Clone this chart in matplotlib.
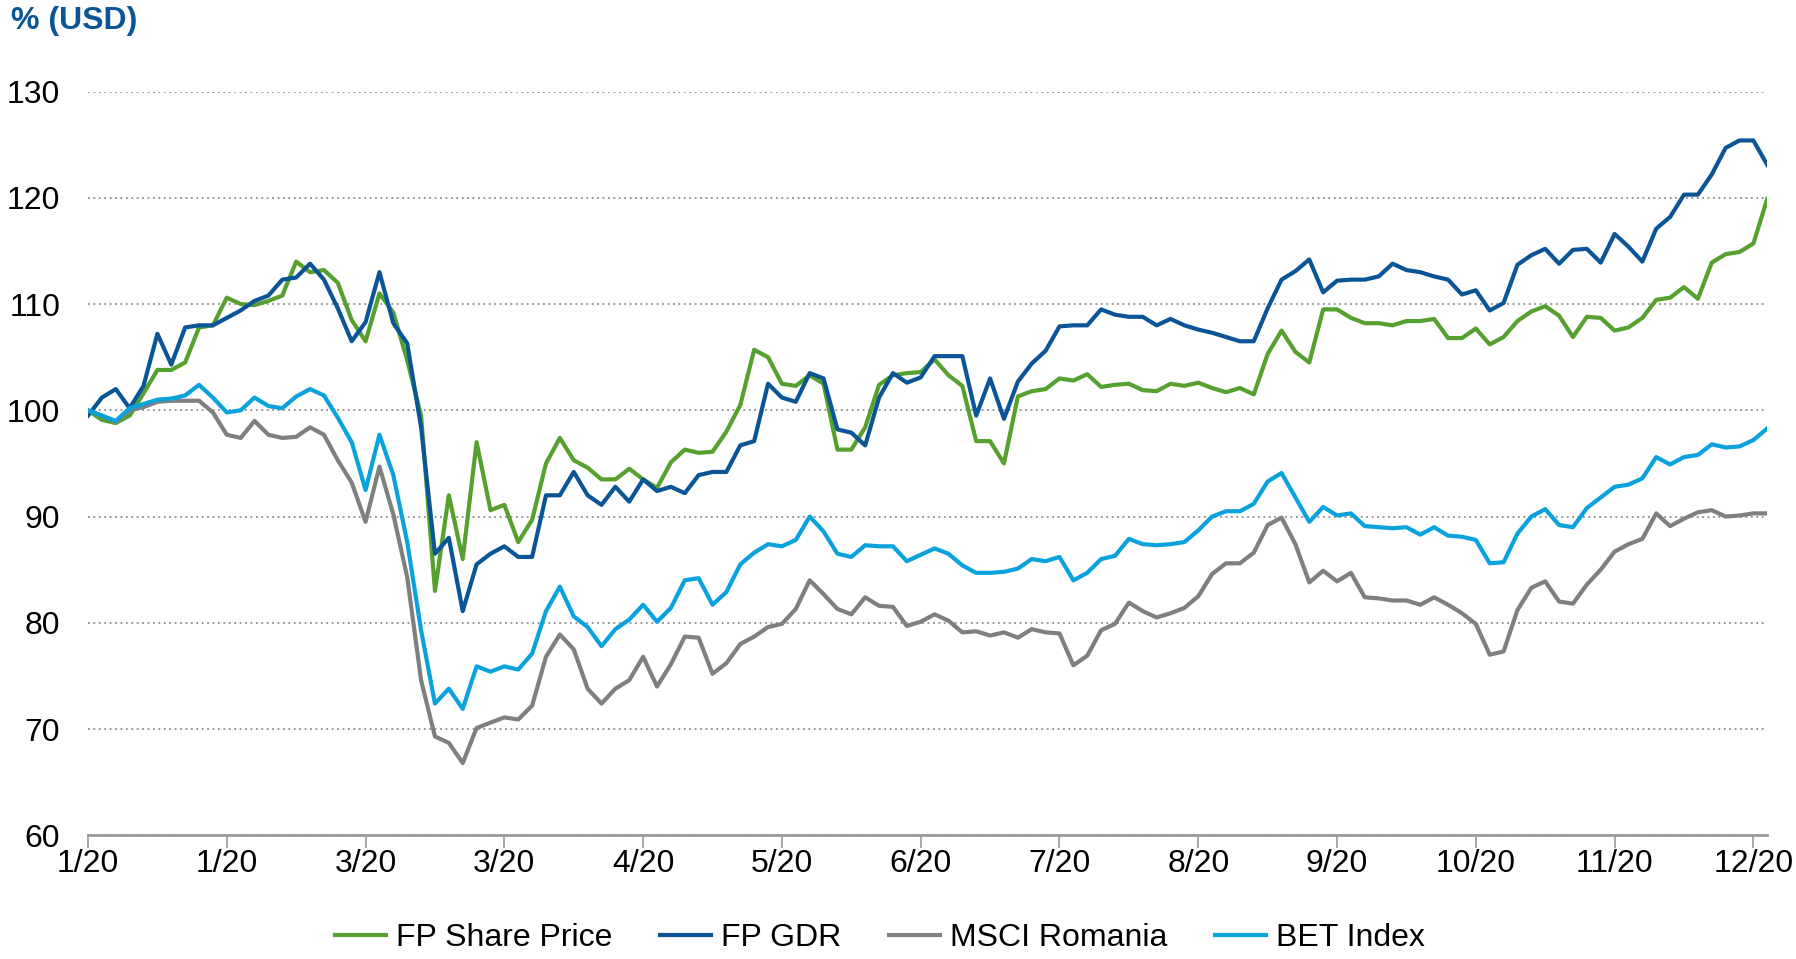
import numpy as np
import matplotlib
matplotlib.use("Agg")
import matplotlib.pyplot as plt

plt.rcParams['font.family'] = ['Liberation Sans', 'DejaVu Sans']

# sampled every ~0.1 month-tick, last value = latest close
tick_labels = ["1/20", "1/20", "3/20", "3/20", "4/20", "5/20", "6/20",
               "7/20", "8/20", "9/20", "10/20", "11/20", "12/20"]

fp_share = [100.0, 99.1, 98.8, 99.5, 101.6, 103.8, 103.8, 104.5, 107.8, 108.0,
            110.6, 110.0, 109.9, 110.3, 110.8, 114.0, 113.0, 113.2, 112.0, 108.5,
            106.5, 111.0, 109.2, 104.7, 99.5, 83.0, 92.0, 86.0, 97.0, 90.6,
            91.1, 87.6, 89.7, 95.0, 97.4, 95.3, 94.6, 93.5, 93.5, 94.5,
            93.5, 92.7, 95.1, 96.3, 96.0, 96.1, 98.0, 100.5, 105.7, 105.0,
            102.5, 102.3, 103.3, 102.5, 96.3, 96.3, 98.4, 102.4, 103.3, 103.5,
            103.6, 104.8, 103.3, 102.3, 97.1, 97.1, 95.0, 101.3, 101.8, 102.0,
            103.0, 102.8, 103.4, 102.2, 102.4, 102.5, 101.9, 101.8, 102.5, 102.3,
            102.6, 102.1, 101.7, 102.1, 101.5, 105.3, 107.5, 105.5, 104.5, 109.5,
            109.5, 108.7, 108.2, 108.2, 108.0, 108.4, 108.4, 108.6, 106.8, 106.8,
            107.7, 106.2, 106.9, 108.4, 109.3, 109.8, 108.9, 106.9, 108.8, 108.7,
            107.5, 107.8, 108.7, 110.4, 110.6, 111.6, 110.5, 113.9, 114.7, 114.9,
            115.7, 119.9]

fp_gdr = [99.5, 101.2, 102.0, 100.2, 102.3, 107.2, 104.3, 107.8, 108.0, 108.0,
          108.7, 109.4, 110.3, 110.8, 112.3, 112.5, 113.8, 112.3, 109.6, 106.5,
          108.3, 113.0, 108.2, 106.3, 98.4, 86.5, 88.0, 81.1, 85.5, 86.5,
          87.2, 86.2, 86.2, 92.0, 92.0, 94.2, 92.0, 91.1, 92.8, 91.4,
          93.5, 92.4, 92.8, 92.2, 93.9, 94.2, 94.2, 96.7, 97.1, 102.5,
          101.2, 100.8, 103.5, 103.0, 98.2, 97.9, 96.7, 101.2, 103.5, 102.6,
          103.1, 105.1, 105.1, 105.1, 99.5, 103.0, 99.2, 102.7, 104.4, 105.6,
          107.9, 108.0, 108.0, 109.5, 109.0, 108.8, 108.8, 108.0, 108.6, 108.0,
          107.6, 107.3, 106.9, 106.5, 106.5, 109.6, 112.3, 113.1, 114.2, 111.1,
          112.2, 112.3, 112.3, 112.6, 113.8, 113.2, 113.0, 112.6, 112.3, 110.9,
          111.3, 109.4, 110.1, 113.7, 114.6, 115.2, 113.8, 115.1, 115.2, 113.9,
          116.6, 115.4, 114.0, 117.1, 118.2, 120.3, 120.3, 122.2, 124.7, 125.4,
          125.4, 123.1]

msci_ro = [100.0, 99.5, 98.9, 100.0, 100.3, 100.8, 100.9, 100.9, 100.9, 99.8,
           97.7, 97.4, 99.0, 97.7, 97.4, 97.5, 98.4, 97.7, 95.3, 93.2,
           89.5, 94.7, 90.2, 84.3, 74.6, 69.3, 68.7, 66.8, 70.1, 70.6,
           71.1, 70.9, 72.2, 76.8, 78.9, 77.5, 73.8, 72.4, 73.8, 74.6,
           76.8, 74.0, 76.1, 78.7, 78.6, 75.2, 76.2, 78.0, 78.7, 79.6,
           79.9, 81.3, 84.0, 82.7, 81.3, 80.8, 82.4, 81.6, 81.5, 79.7,
           80.1, 80.8, 80.2, 79.1, 79.2, 78.8, 79.1, 78.6, 79.4, 79.1,
           79.0, 76.0, 76.9, 79.3, 79.9, 81.9, 81.1, 80.5, 80.9, 81.4,
           82.5, 84.6, 85.6, 85.6, 86.6, 89.2, 89.9, 87.4, 83.8, 84.9,
           83.9, 84.7, 82.4, 82.3, 82.1, 82.1, 81.7, 82.4, 81.7, 80.9,
           79.9, 77.0, 77.3, 81.2, 83.3, 83.9, 82.0, 81.8, 83.6, 85.0,
           86.7, 87.4, 87.9, 90.3, 89.1, 89.8, 90.4, 90.6, 90.0, 90.1,
           90.3, 90.3]

bet_index = [100.0, 99.5, 99.0, 100.2, 100.6, 101.0, 101.1, 101.4, 102.4, 101.2,
             99.8, 100.0, 101.2, 100.4, 100.2, 101.3, 102.0, 101.4, 99.3, 97.0,
             92.5, 97.7, 93.9, 87.6, 79.3, 72.4, 73.8, 71.9, 75.9, 75.4,
             75.9, 75.6, 77.1, 81.1, 83.4, 80.6, 79.6, 77.8, 79.4, 80.3,
             81.7, 80.1, 81.4, 84.0, 84.2, 81.7, 82.9, 85.5, 86.6, 87.4,
             87.2, 87.8, 90.0, 88.6, 86.5, 86.2, 87.3, 87.2, 87.2, 85.8,
             86.4, 87.0, 86.5, 85.4, 84.7, 84.7, 84.8, 85.1, 86.0, 85.8,
             86.2, 84.0, 84.7, 86.0, 86.3, 87.9, 87.4, 87.3, 87.4, 87.6,
             88.7, 90.0, 90.5, 90.5, 91.2, 93.3, 94.1, 91.8, 89.5, 90.9,
             90.1, 90.3, 89.1, 89.0, 88.9, 89.0, 88.3, 89.0, 88.2, 88.1,
             87.8, 85.6, 85.7, 88.4, 90.0, 90.7, 89.2, 89.0, 90.8, 91.8,
             92.8, 93.0, 93.6, 95.6, 94.9, 95.6, 95.8, 96.8, 96.5, 96.6,
             97.2, 98.3]

series = [
    ("FP Share Price", fp_share, "#55a02f"),
    ("FP GDR", fp_gdr, "#0b5597"),
    ("MSCI Romania", msci_ro, "#7f7f7f"),
    ("BET Index", bet_index, "#0aa2dc"),
]

x = np.arange(len(fp_share))

fig = plt.figure(figsize=(17.96, 9.59), dpi=100)
ax = fig.add_axes([0.049, 0.129, 0.935, 0.7755])

for name, vals, col in series:
    ax.plot(x, vals, color=col, lw=3.0, label=name, solid_joinstyle='round')

ax.set_xlim(0, len(x) - 1)
ax.set_ylim(60, 130)
ax.set_yticks(range(60, 131, 10))
ax.set_xticks(np.arange(0, 121, 10))
ax.set_xticklabels(tick_labels)

ax.grid(axis='y', linestyle=(0, (1, 2)), color='#8c8c8c', lw=1.3)
ax.set_axisbelow(True)
for s in ['top', 'right', 'left']:
    ax.spines[s].set_visible(False)
ax.spines['bottom'].set_color('#999999')
ax.spines['bottom'].set_linewidth(2)
ax.spines['bottom'].set_zorder(5)

ax.tick_params(axis='y', length=0, pad=20, labelsize=23)
ax.tick_params(axis='x', length=9, width=1.2, color='#999999', pad=1, labelsize=23)

fig.text(0.0064, 0.994, "% (USD)", color='#0b5597', fontsize=23,
         fontweight='bold', va='top', ha='left')

ax.legend(loc='center', bbox_to_anchor=(0.49, 0.022), bbox_transform=fig.transFigure,
          ncol=4, frameon=False, fontsize=23, handlelength=1.6, handletextpad=0.3,
          columnspacing=1.5)

fig.savefig("out.png", dpi=100)
